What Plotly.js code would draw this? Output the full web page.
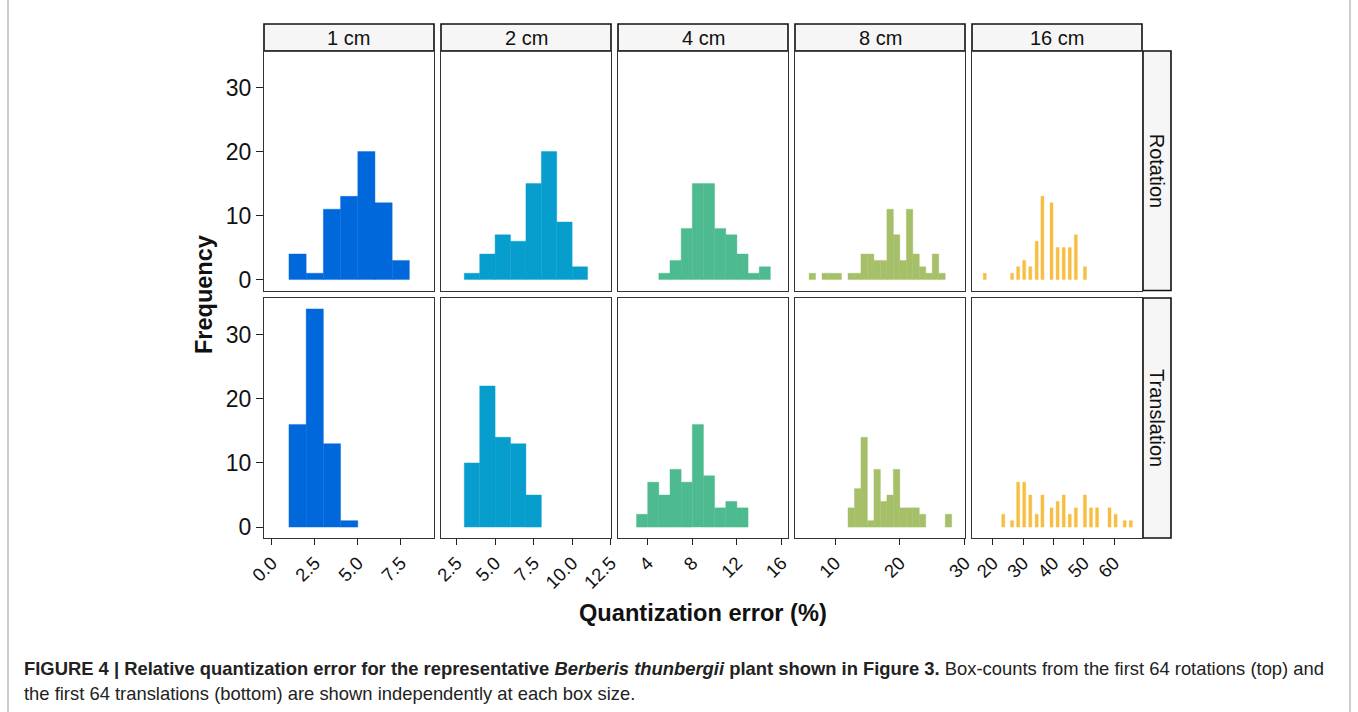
<!DOCTYPE html>
<html>
<head>
<meta charset="utf-8">
<script src="https://cdn.plot.ly/plotly-3.0.1.min.js"></script>
<style>
html,body{margin:0;padding:0;background:#fff;}
#chart{width:1358px;height:712px;}
</style>
</head>
<body>
<div id="chart"></div>
<script>
// ---------- data ----------
const boxSizes = ["1 cm", "2 cm", "4 cm", "8 cm", "16 cm"];
const rowNames = ["Rotation", "Translation"];
const sizeColors = ["#0068DB", "#079ECD", "#4DBA8F", "#A6BF69", "#F7BE42"];
const binWidth = [1, 1, 1, 1, 1];

// bin left edges and counts, per box size, rotation (top row)
const rot1cmBins = [1, 2, 3, 4, 5, 6, 7];
const rot1cmCounts = [4, 1, 11, 13, 20, 12, 3];
const rot2cmBins = [3, 4, 5, 6, 7, 8, 9, 10];
const rot2cmCounts = [1, 4, 7, 6, 15, 20, 9, 2];
const rot4cmBins = [5, 6, 7, 8, 9, 10, 11, 12, 13, 14];
const rot4cmCounts = [1, 3, 8, 15, 15, 8, 7, 4, 1, 2];
const rot8cmBins = [6, 8, 9, 10, 12, 13, 14, 15, 16, 17, 18, 19, 20, 21, 22, 23, 24, 25, 26];
const rot8cmCounts = [1, 1, 1, 1, 1, 1, 4, 4, 3, 3, 11, 7, 3, 11, 4, 2, 1, 4, 1];
const rot16cmBins = [16.9, 25.9, 27.9, 29.9, 31.9, 34.0, 35.9, 38.9, 40.9, 42.9, 44.9, 46.9, 49.9];
const rot16cmCounts = [1, 1, 2, 3, 2, 6, 13, 12, 5, 5, 5, 7, 2];

// translation (bottom row)
const tra1cmBins = [1, 2, 3, 4];
const tra1cmCounts = [16, 34, 13, 1];
const tra2cmBins = [3, 4, 5, 6, 7];
const tra2cmCounts = [10, 22, 14, 13, 5];
const tra4cmBins = [3, 4, 5, 6, 7, 8, 9, 10, 11, 12];
const tra4cmCounts = [2, 7, 5, 9, 7, 16, 8, 3, 4, 3];
const tra8cmBins = [12, 13, 14, 15, 16, 17, 18, 19, 20, 21, 22, 23, 27];
const tra8cmCounts = [3, 6, 14, 1, 9, 4, 5, 9, 3, 3, 3, 2, 2];
const tra16cmBins = [23.0, 25.9, 27.9, 29.9, 31.9, 34.0, 35.9, 38.9, 40.9, 42.9, 44.9, 46.9, 49.9, 51.9, 53.9, 58.0, 60.0, 63.0, 65.0];
const tra16cmCounts = [2, 1, 7, 7, 5, 2, 5, 3, 4, 5, 2, 3, 5, 3, 3, 3, 2, 1, 1];

// axis ticks per box size
const tickVals1cm = [0, 2.5, 5, 7.5];
const tickText1cm = ["0.0", "2.5", "5.0", "7.5"];
const tickVals2cm = [2.5, 5, 7.5, 10, 12.5];
const tickText2cm = ["2.5", "5.0", "7.5", "10.0", "12.5"];
const tickVals4cm = [4, 8, 12, 16];
const tickText4cm = ["4", "8", "12", "16"];
const tickVals8cm = [10, 20, 30];
const tickText8cm = ["10", "20", "30"];
const tickVals16cm = [20, 30, 40, 50, 60];
const tickText16cm = ["20", "30", "40", "50", "60"];
const yTickVals = [0, 10, 20, 30];

const xTitle = "Quantization error (%)";
const yTitle = "Frequency";
const captionLine1 = "<b>FIGURE 4 | Relative quantization error for the representative <i>Berberis thunbergii</i> plant shown in Figure 3.</b> Box-counts from the first 64 rotations (top) and";
const captionLine2 = "the first 64 translations (bottom) are shown independently at each box size.";

// ---------- layout geometry ----------
const W = 1358, H = 712;
const colX = [[264, 434], [441, 611], [618, 788], [795, 965], [972, 1142]];
const rowY = [[51, 290.5], [298, 538]];
const xRanges = [[-0.45, 9.43], [1.49, 12.52], [1.34, 16.58], [3.83, 30.05], [13.2, 69.2]];
const yRange = [-1.7, 35.7];
const px = v => v / W;
const py = v => 1 - v / H;

const binsTable = [
  [rot1cmBins, rot2cmBins, rot4cmBins, rot8cmBins, rot16cmBins],
  [tra1cmBins, tra2cmBins, tra4cmBins, tra8cmBins, tra16cmBins]
];
const countsTable = [
  [rot1cmCounts, rot2cmCounts, rot4cmCounts, rot8cmCounts, rot16cmCounts],
  [tra1cmCounts, tra2cmCounts, tra4cmCounts, tra8cmCounts, tra16cmCounts]
];
const tickValsTable = [tickVals1cm, tickVals2cm, tickVals4cm, tickVals8cm, tickVals16cm];
const tickTextTable = [tickText1cm, tickText2cm, tickText4cm, tickText8cm, tickText16cm];

const FONT = "Liberation Sans, Arial, Helvetica, sans-serif";
const traces = [];
const layout = {
  width: W, height: H,
  margin: {l: 0, r: 0, t: 0, b: 0, pad: 0},
  paper_bgcolor: "#ffffff",
  plot_bgcolor: "#ffffff",
  showlegend: false,
  font: {family: FONT, color: "#111"},
  shapes: [],
  annotations: []
};

for (let r = 0; r < 2; r++) {
  for (let c = 0; c < 5; c++) {
    const k = r * 5 + c + 1;
    const xa = "x" + k, ya = "y" + k;
    const bins = binsTable[r][c], counts = countsTable[r][c], bw = binWidth[c];
    traces.push({
      type: "bar",
      x: bins.map(b => b + bw / 2),
      y: counts,
      width: bins.map(() => bw),
      marker: {color: sizeColors[c], line: {width: 0.4, color: sizeColors[c]}},
      xaxis: xa, yaxis: ya,
      hoverinfo: "x+y"
    });
    const xKey = "xaxis" + k, yKey = "yaxis" + k;
    layout[xKey] = {
      domain: [px(colX[c][0]), px(colX[c][1])],
      anchor: ya,
      range: xRanges[c],
      showgrid: false, zeroline: false,
      showline: true, mirror: true, linecolor: "#333", linewidth: 1,
      tickmode: "array",
      tickvals: tickValsTable[c],
      ticktext: tickTextTable[c],
      ticks: r === 1 ? "outside" : "",
      ticklen: 6, tickwidth: 1, tickcolor: "#222",
      showticklabels: r === 1,
      tickangle: -45,
      tickfont: {family: FONT, size: 18.5, color: "#111"},
      fixedrange: true
    };
    layout[yKey] = {
      domain: [py(rowY[r][1]), py(rowY[r][0])],
      anchor: xa,
      range: yRange,
      showgrid: false, zeroline: false,
      showline: true, mirror: true, linecolor: "#333", linewidth: 1,
      tickmode: "array",
      tickvals: yTickVals,
      ticks: c === 0 ? "outside" : "",
      ticklen: 7, tickwidth: 1, tickcolor: "#222",
      showticklabels: c === 0,
      tickfont: {family: FONT, size: 23, color: "#111"},
      fixedrange: true
    };
  }
}

// top strips
for (let c = 0; c < 5; c++) {
  layout.shapes.push({
    type: "rect", xref: "paper", yref: "paper",
    x0: px(colX[c][0]), x1: px(colX[c][1]), y0: py(51), y1: py(24),
    fillcolor: "#F6F6F6", line: {color: "#111", width: 1.6}, layer: "below"
  });
  layout.annotations.push({
    xref: "paper", yref: "paper",
    x: px((colX[c][0] + colX[c][1]) / 2), y: py(37.5),
    text: boxSizes[c], showarrow: false,
    xanchor: "center", yanchor: "middle",
    font: {family: FONT, size: 20, color: "#111"}
  });
}
// right strips
for (let r = 0; r < 2; r++) {
  layout.shapes.push({
    type: "rect", xref: "paper", yref: "paper",
    x0: px(1143), x1: px(1171), y0: py(rowY[r][1]), y1: py(rowY[r][0]),
    fillcolor: "#F6F6F6", line: {color: "#111", width: 1.6}, layer: "below"
  });
  layout.annotations.push({
    xref: "paper", yref: "paper",
    x: px(1157), y: py((rowY[r][0] + rowY[r][1]) / 2),
    text: rowNames[r], showarrow: false, textangle: 90,
    xanchor: "center", yanchor: "middle",
    font: {family: FONT, size: 20, color: "#111"}
  });
}

// axis titles
layout.annotations.push({
  xref: "paper", yref: "paper", x: px(204), y: py(295),
  text: "<b>" + yTitle + "</b>", showarrow: false, textangle: -90,
  xanchor: "center", yanchor: "middle",
  font: {family: FONT, size: 23.5, color: "#111"}
});
layout.annotations.push({
  xref: "paper", yref: "paper", x: px(703), y: py(613),
  text: "<b>" + xTitle + "</b>", showarrow: false,
  xanchor: "center", yanchor: "middle",
  font: {family: FONT, size: 23.6, color: "#111"}
});

// caption
layout.annotations.push({
  xref: "paper", yref: "paper", x: px(22), y: py(668),
  text: captionLine1, showarrow: false, xanchor: "left", yanchor: "middle",
  font: {family: FONT, size: 18.4, color: "#222"}
});
layout.annotations.push({
  xref: "paper", yref: "paper", x: px(22), y: py(693),
  text: captionLine2, showarrow: false, xanchor: "left", yanchor: "middle",
  font: {family: FONT, size: 18.4, color: "#222"}
});

// figure frame
layout.shapes.push({
  type: "line", xref: "paper", yref: "paper",
  x0: px(8), x1: px(8), y0: 0, y1: 1, line: {color: "#9a9a9a", width: 1}
});
layout.shapes.push({
  type: "line", xref: "paper", yref: "paper",
  x0: px(1350), x1: px(1350), y0: 0, y1: 1, line: {color: "#9a9a9a", width: 1}
});

Plotly.newPlot("chart", traces, layout, {displayModeBar: false, staticPlot: true});
</script>
</body>
</html>
